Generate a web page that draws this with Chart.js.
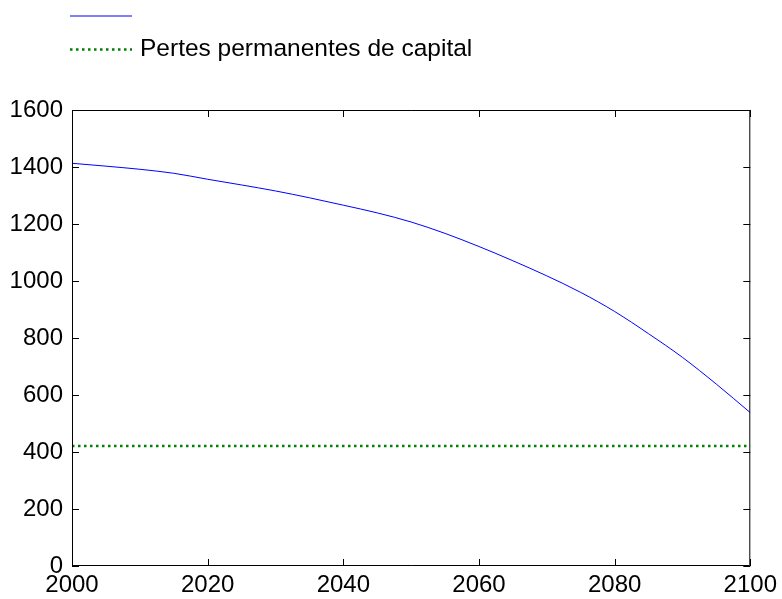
<!DOCTYPE html>
<html>
<head>
<meta charset="utf-8">
<script src="https://cdn.jsdelivr.net/npm/chart.js@4/dist/chart.umd.min.js"></script>
<style>
  html, body { margin: 0; padding: 0; background: #fff; }
  #wrap { width: 782px; height: 599px; }
</style>
</head>
<body>
<div id="wrap"><canvas id="myChart" width="782" height="599"></canvas></div>
<script>
// data
var years = [2000, 2005, 2010, 2015, 2020, 2025, 2030, 2035, 2040, 2045, 2050,
             2055, 2060, 2065, 2070, 2075, 2080, 2085, 2090, 2095, 2100];
var blueValues = [1413, 1403, 1392, 1378, 1357, 1337, 1316, 1292, 1266, 1239, 1207,
                  1167, 1121, 1071, 1018, 960, 893, 815, 732, 638, 538];
var lossYears = [2000, 2100];
var lossValues = [421, 421];
var blueLabel = "";
var lossLabel = "Pertes permanentes de capital";
var xTicks = [2000, 2020, 2040, 2060, 2080, 2100];
var yTicks = [0, 200, 400, 600, 800, 1000, 1200, 1400, 1600];

var fontFam = "'Liberation Sans', Arial, sans-serif";

function toPoints(xs, ys) {
  var pts = [];
  for (var i = 0; i < xs.length; i++) pts.push({ x: xs[i], y: ys[i] });
  return pts;
}

// frame, inward ticks and legend, matlab style
var matlabLook = {
  id: "matlabLook",
  afterDatasetsDraw: function (chart) {
    var ctx = chart.ctx;
    var a = chart.chartArea;
    var xs = chart.scales.x;
    var ys = chart.scales.y;
    var tl = 7;
    ctx.save();
    ctx.strokeStyle = "#000";
    ctx.lineWidth = 1;
    ctx.beginPath();
    ctx.rect(a.left + 0.5, a.top + 0.5, a.right - a.left - 1, a.bottom - a.top - 1);
    ctx.stroke();
    ctx.beginPath();
    xTicks.forEach(function (v) {
      var px = Math.round(xs.getPixelForValue(v)) + 0.5;
      ctx.moveTo(px, a.bottom); ctx.lineTo(px, a.bottom - tl);
      ctx.moveTo(px, a.top); ctx.lineTo(px, a.top + tl);
    });
    yTicks.forEach(function (v) {
      var py = Math.round(ys.getPixelForValue(v)) + 0.5;
      ctx.moveTo(a.left, py); ctx.lineTo(a.left + tl, py);
      ctx.moveTo(a.right, py); ctx.lineTo(a.right - tl, py);
    });
    ctx.stroke();

    // legend
    var ds = chart.data.datasets;
    var rows = [16, 49.5];
    ds.forEach(function (d, i) {
      var y = rows[i];
      ctx.strokeStyle = d.borderColor;
      ctx.lineWidth = d.borderWidth;
      ctx.setLineDash(d.borderDash || []);
      ctx.beginPath();
      ctx.moveTo(70, y); ctx.lineTo(132, y);
      ctx.stroke();
      ctx.setLineDash([]);
      ctx.fillStyle = "#000";
      ctx.font = "24.5px " + fontFam;
      ctx.textBaseline = "middle";
      ctx.fillText(d.label, 140, y);
    });
    ctx.restore();
  }
};

var ctx = document.getElementById("myChart");
var myLineChart = new Chart(ctx, {
  type: "line",
  data: {
    datasets: [
      {
        label: blueLabel,
        data: toPoints(years, blueValues),
        borderColor: "rgb(0, 0, 255)",
        borderWidth: 1,
        pointRadius: 0,
        cubicInterpolationMode: "monotone",
        fill: false
      },
      {
        label: lossLabel,
        data: toPoints(lossYears, lossValues),
        borderColor: "rgb(0, 128, 0)",
        borderWidth: 2.5,
        borderDash: [2.5, 3.5],
        pointRadius: 0,
        fill: false
      }
    ]
  },
  options: {
    responsive: false,
    animation: false,
    layout: { padding: { top: 110, right: 31, left: 0, bottom: 0 } },
    plugins: { legend: { display: false }, tooltip: { enabled: false } },
    scales: {
      x: {
        type: "linear",
        min: 2000,
        max: 2100,
        afterBuildTicks: function (s) { s.ticks = xTicks.map(function (v) { return { value: v }; }); },
        afterFit: function (s) { s.height = 33; },
        grid: { display: false, drawTicks: false },
        border: { display: false },
        ticks: {
          color: "#000",
          padding: 5,
          maxRotation: 0,
          font: { size: 24, family: fontFam },
          callback: function (v) { return String(v); }
        }
      },
      y: {
        min: 0,
        max: 1600,
        afterBuildTicks: function (s) { s.ticks = yTicks.map(function (v) { return { value: v }; }); },
        afterFit: function (s) { s.width = 72; },
        grid: { display: false, drawTicks: false },
        border: { display: false },
        ticks: {
          color: "#000",
          padding: 9,
          font: { size: 24, family: fontFam },
          callback: function (v) { return String(v); }
        }
      }
    }
  },
  plugins: [matlabLook]
});
</script>
</body>
</html>
